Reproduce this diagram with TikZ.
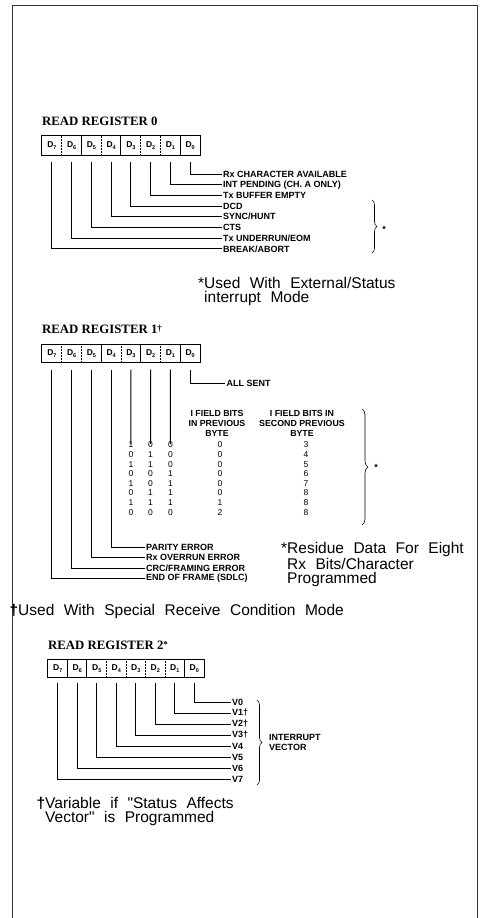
\documentclass[tikz,border=0pt]{standalone}
\usepackage{fontspec}
\setmainfont{Liberation Sans}
\newfontfamily\serifbold{Liberation Serif}
\newfontfamily\spacedsans{Liberation Sans}[WordSpace=2.2]
\usetikzlibrary{decorations.pathreplacing}

\newcommand{\regtitlefont}{\serifbold\bfseries\fontsize{12.8}{14}\selectfont}
\newcommand{\lblfont}{\bfseries\fontsize{9}{10}\selectfont}
\newcommand{\hdrfont}{\bfseries\fontsize{8.8}{10}\selectfont}
\newcommand{\digitfont}{\fontsize{8.5}{9}\selectfont}
\newcommand{\notefont}{\spacedsans\fontsize{15.5}{13.8}\selectfont}
\newcommand{\cellfont}{\bfseries\fontsize{8.5}{9}\selectfont}
\newcommand{\bitname}[1]{D\raisebox{-0.35ex}{\fontsize{5.5}{6}\selectfont #1}}

\tikzset{
  cell/.style={minimum width=19.75pt, minimum height=19pt, inner sep=0pt, font=\cellfont},
  lbl/.style={anchor=west, inner sep=1.5pt, font=\lblfont},
  hdr/.style={align=center, inner sep=0pt, font=\hdrfont},
  digit/.style={inner sep=0.8pt, font=\digitfont},
  wire/.style={line width=0.9pt},
  note/.style={anchor=north west, inner sep=0pt, align=left, font=\notefont},
  regtitle/.style={anchor=west, inner sep=0pt, font=\regtitlefont},
  curly/.style={decorate, decoration={brace, amplitude=5pt}, line width=0.6pt},
}

\begin{document}
\begin{tikzpicture}[x=1pt,y=-1pt]
	\useasboundingbox (0,0) rectangle (484,918);

	% frame
	\draw[black!80,line width=1pt] (12,918) -- (12,5) -- (477,5) -- (477,918);

	% ---------------- read register 0
	\node[regtitle] (title0) at (42,121) {READ REGISTER 0};
	\foreach \i in {0,...,7}
		\node[cell] (r0d\i) at ({51.875+19.75*(7-\i)},145.5) {\bitname{\i}};
	\draw[line width=1.1pt] (r0d7.north west) rectangle (r0d0.south east);
	\foreach \i in {5,3,0}
		\draw[line width=0.7pt] (r0d\i.north west) -- (r0d\i.south west);
	\foreach \i in {6,4,2,1}
		\draw[densely dotted,line width=0.5pt] (r0d\i.north west) -- (r0d\i.south west);

	\node[lbl] (rxca) at (221.5,174) {Rx CHARACTER AVAILABLE};
	\node[lbl] (intp) at (221.5,184.7) {INT PENDING (CH. A ONLY)};
	\node[lbl] (txbe) at (221.5,195.4) {Tx BUFFER EMPTY};
	\node[lbl] (dcd) at (221.5,206.1) {DCD};
	\node[lbl] (sync) at (221.5,216.8) {SYNC/HUNT};
	\node[lbl] (cts) at (221.5,227.5) {CTS};
	\node[lbl] (txur) at (221.5,238.2) {Tx UNDERRUN/EOM};
	\node[lbl] (brk) at (221.5,248.9) {BREAK/ABORT};
	\foreach \i/\n in {0/rxca,1/intp,2/txbe,3/dcd,4/sync,5/cts,6/txur,7/brk}
		\draw[wire] ([yshift=-7pt]r0d\i.south) |- (\n.west);

	\draw[curly] (372,200) -- (372,253);
	\node[lbl,anchor=center] (star0) at (384,229) {*};
	\node[note] (note0) at (204,277.5) {\llap{*}Used With External/Status\\interrupt Mode};

	% ---------------- read register 1
	\node[regtitle] (title1) at (42,329) {READ REGISTER 1\raisebox{0.3ex}{\fontsize{9}{9}\selectfont †}};
	\foreach \i in {0,...,7}
		\node[cell,minimum height=18pt] (r1d\i) at ({51.875+19.75*(7-\i)},353.5) {\bitname{\i}};
	\draw[line width=1.1pt] (r1d7.north west) rectangle (r1d0.south east);
	\foreach \i in {4,2,0}
		\draw[line width=0.7pt] (r1d\i.north west) -- (r1d\i.south west);
	\foreach \i in {6,5,3,1}
		\draw[densely dotted,line width=0.5pt] (r1d\i.north west) -- (r1d\i.south west);

	\node[lbl] (alls) at (225,383) {ALL SENT};
	\draw[wire] ([yshift=-7pt]r1d0.south) |- (alls.west);

	\node[hdr] (hprev) at (217,423) {I FIELD BITS\\IN PREVIOUS\\BYTE};
	\node[hdr] (hsec) at (302,423) {I FIELD BITS IN\\SECOND PREVIOUS\\BYTE};
	\foreach \a/\b/\c/\p/\s [count=\k from 0] in
		{1/0/0/0/3, 0/1/0/0/4, 1/1/0/0/5, 0/0/1/0/6, 1/0/1/0/7, 0/1/1/0/8, 1/1/1/1/8, 0/0/0/2/8}
	{
		\node[digit] (rw\k d3) at (130.9,{445+9.6*\k}) {\a};
		\node[digit] (rw\k d2) at (150.6,{445+9.6*\k}) {\b};
		\node[digit] (rw\k d1) at (170.4,{445+9.6*\k}) {\c};
		\node[digit] (rw\k p) at (220,{445+9.6*\k}) {\p};
		\node[digit] (rw\k s) at (306,{445+9.6*\k}) {\s};
	}
	\foreach \i in {1,2,3}
		\draw[wire] ([yshift=-7pt]r1d\i.south) -- ([yshift=-3pt]rw0d\i.north);

	\node[lbl] (par) at (144.5,547) {PARITY ERROR};
	\node[lbl] (ovr) at (144.5,557.5) {Rx OVERRUN ERROR};
	\node[lbl] (crc) at (144.5,568) {CRC/FRAMING ERROR};
	\node[lbl] (eof) at (144.5,578.5) {END OF FRAME (SDLC)};
	\foreach \i/\n in {4/par,5/ovr,6/crc,7/eof}
		\draw[wire] ([yshift=-7pt]r1d\i.south) |- (\n.west);

	\draw[curly,decoration={amplitude=6pt}] (362,409) -- (362,525);
	\node[lbl,anchor=center] (star1) at (376,467) {*};
	\node[note] (note1) at (287,542.5) {\llap{*}Residue Data For Eight\\Rx Bits/Character\\Programmed};
	\node[note] (note1b) at (18,604.5) {\llap{\bfseries †}Used With Special Receive Condition Mode};

	% ---------------- read register 2
	\node[regtitle] (title2) at (48,645) {READ REGISTER 2\raisebox{0.3ex}{\fontsize{9}{9}\selectfont *}};
	\foreach \i in {0,...,7}
		\node[cell,minimum width=19.5pt,minimum height=18pt] (r2d\i) at ({57.75+19.5*(7-\i)},668.5) {\bitname{\i}};
	\draw[line width=1.1pt] (r2d7.north west) rectangle (r2d0.south east);
	\foreach \i in {6,5,0}
		\draw[line width=0.7pt] (r2d\i.north west) -- (r2d\i.south west);
	\foreach \i in {4,3,2,1}
		\draw[densely dotted,line width=0.5pt] (r2d\i.north west) -- (r2d\i.south west);

	\foreach \i/\t in {0/V0,1/V1†,2/V2†,3/V3†,4/V4,5/V5,6/V6,7/V7}
	{
		\node[lbl] (v\i) at (230.5,{702+11*\i}) {\t};
		\draw[wire] ([yshift=-5pt]r2d\i.south) |- (v\i.west);
	}

	\draw[curly] (257,700) -- (257,785);
	\node[lbl,align=left] (ivec) at (267.5,742.5) {INTERRUPT\\VECTOR};
	\node[note] (note2) at (45,797.5) {\llap{\bfseries †}Variable if "Status Affects\\Vector" is Programmed};

\end{tikzpicture}
\end{document}
